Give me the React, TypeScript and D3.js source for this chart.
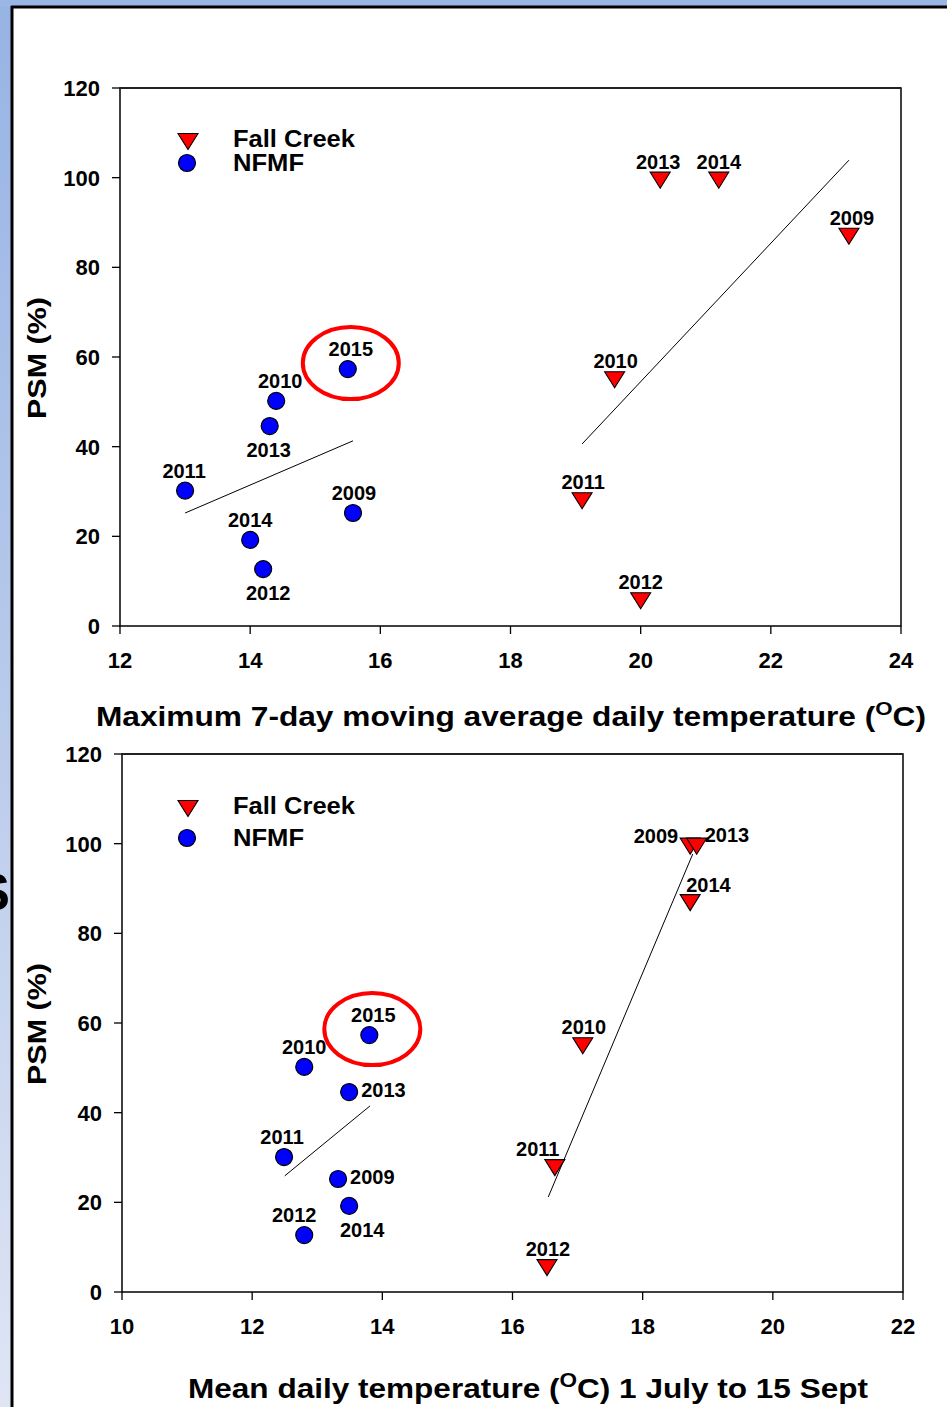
import React from "react";
import * as d3 from "d3";

// Shared tick labels
const psmTicks = [0, 20, 40, 60, 80, 100, 120];
const maxTempTicks = [12, 14, 16, 18, 20, 22, 24];
const meanTempTicks = [10, 12, 14, 16, 18, 20, 22];

// Maximum 7-day moving average daily temperature vs PSM
const topFallCreekYears = ["2009", "2010", "2011", "2012", "2013", "2014"];
const topFallCreekTemp = [23.2, 19.6, 19.1, 20.0, 20.3, 21.2];
const topFallCreekPSM = [87.5, 55.5, 28.5, 6.2, 100, 100];
const topNfmfYears = ["2009", "2010", "2011", "2012", "2013", "2014", "2015"];
const topNfmfTemp = [15.58, 14.4, 13.0, 14.2, 14.3, 14.0, 15.5];
const topNfmfPSM = [25.2, 50.2, 30.2, 12.7, 44.6, 19.2, 57.3];
const topFallTrendTemp = [19.1, 23.2];
const topFallTrendPSM = [40.6, 103.9];
const topNfmfTrendTemp = [13.0, 15.58];
const topNfmfTrendPSM = [25.2, 41.3];

// Mean daily temperature 1 July - 15 Sept vs PSM
const bottomFallCreekYears = ["2009", "2010", "2011", "2012", "2013", "2014"];
const bottomFallCreekTemp = [18.73, 17.08, 16.65, 16.53, 18.83, 18.73];
const bottomFallCreekPSM = [100, 55.5, 28.3, 6.0, 100, 87.4];
const bottomNfmfYears = ["2009", "2010", "2011", "2012", "2013", "2014", "2015"];
const bottomNfmfTemp = [13.32, 12.8, 12.49, 12.8, 13.49, 13.49, 13.8];
const bottomNfmfPSM = [25.2, 50.2, 30.1, 12.7, 44.6, 19.2, 57.3];
const bottomFallTrendTemp = [16.55, 18.77];
const bottomFallTrendPSM = [21.2, 97.7];
const bottomNfmfTrendTemp = [12.5, 13.81];
const bottomNfmfTrendPSM = [25.9, 41.5];

const highlightYear = "2015";

type Side = "above" | "below" | "right" | "left" | "aboveRight";
type Placement = Record<string, { side: Side; dx?: number }>;

const topNfmfLabels: Placement = {
  "2009": { side: "above", dx: 1 },
  "2010": { side: "above", dx: 4 },
  "2011": { side: "above", dx: -1 },
  "2012": { side: "below", dx: 5 },
  "2013": { side: "below", dx: -1 },
  "2014": { side: "above" },
  "2015": { side: "above", dx: 3 },
};
const topFallLabels: Placement = {
  "2009": { side: "above", dx: 3 },
  "2010": { side: "above", dx: 1 },
  "2011": { side: "above", dx: 1 },
  "2012": { side: "above" },
  "2013": { side: "above", dx: -2 },
  "2014": { side: "above" },
};
const bottomNfmfLabels: Placement = {
  "2009": { side: "right" },
  "2010": { side: "above" },
  "2011": { side: "above", dx: -2 },
  "2012": { side: "above", dx: -10 },
  "2013": { side: "right" },
  "2014": { side: "below", dx: 13 },
  "2015": { side: "above", dx: 4 },
};
const bottomFallLabels: Placement = {
  "2009": { side: "left" },
  "2010": { side: "above", dx: 1 },
  "2011": { side: "above", dx: -17 },
  "2012": { side: "above", dx: 1 },
  "2013": { side: "right" },
  "2014": { side: "aboveRight" },
};

const FONT = "'Liberation Sans', Arial, Helvetica, sans-serif";

function trianglePath(cx: number, cy: number) {
  const p = d3.path();
  p.moveTo(cx - 10, cy - 5.5);
  p.lineTo(cx + 10, cy - 5.5);
  p.lineTo(cx, cy + 10.5);
  p.closePath();
  return p.toString();
}

type PanelProps = {
  top: number;
  left: number;
  right: number;
  xDomain: [number, number];
  xTicks: number[];
  fallYears: string[];
  fallTemp: number[];
  fallPSM: number[];
  nfmfYears: string[];
  nfmfTemp: number[];
  nfmfPSM: number[];
  fallTrend: [number[], number[]];
  nfmfTrend: [number[], number[]];
  fallLabels: Placement;
  nfmfLabels: Placement;
  legendRows: [number, number];
};

function Panel(p: PanelProps) {
  const height = 538;
  const x = d3.scaleLinear().domain(p.xDomain).range([p.left, p.right]);
  const y = d3.scaleLinear().domain([0, 120]).range([p.top + height, p.top]);
  const bottom = p.top + height;
  const line = d3
    .line<[number, number]>()
    .x((d) => x(d[0]))
    .y((d) => y(d[1]));

  const circleLabel = (cx: number, cy: number, year: string) => {
    const pl = p.nfmfLabels[year] || { side: "above" };
    const dx = pl.dx || 0;
    if (pl.side === "below") return { x: cx + dx, y: cy + 31, anchor: "middle" };
    if (pl.side === "right") return { x: cx + 12 + dx, y: cy + 5, anchor: "start" };
    return { x: cx + dx, y: cy - 13, anchor: "middle" };
  };
  const triLabel = (cx: number, cy: number, year: string) => {
    const pl = p.fallLabels[year] || { side: "above" };
    const dx = pl.dx || 0;
    if (pl.side === "left") return { x: cx - 12 + dx, y: cy - 1, anchor: "end" };
    if (pl.side === "right") return { x: cx + 8 + dx, y: cy - 2, anchor: "start" };
    if (pl.side === "aboveRight") return { x: cx - 4 + dx, y: cy - 8, anchor: "start" };
    return { x: cx + dx, y: cy - 9, anchor: "middle" };
  };

  return (
    <g>
      {/* frame */}
      <rect
        x={p.left}
        y={p.top}
        width={p.right - p.left}
        height={height}
        fill="none"
        stroke="#000"
        strokeWidth={1.5}
      />
      <line x1={p.left} x2={p.right} y1={p.top} y2={p.top} stroke="#222" strokeWidth={2} />
      {/* y axis */}
      {psmTicks.map((t) => (
        <g key={"y" + t}>
          <line x1={p.left - 8} x2={p.left} y1={y(t)} y2={y(t)} stroke="#000" strokeWidth={1.3} />
          <text
            x={p.left - 20}
            y={y(t) + 8}
            textAnchor="end"
            fontSize={22}
            fontWeight="bold"
            fontFamily={FONT}
          >
            {t}
          </text>
        </g>
      ))}
      {/* x axis */}
      {p.xTicks.map((t) => (
        <g key={"x" + t}>
          <line x1={x(t)} x2={x(t)} y1={bottom} y2={bottom + 8} stroke="#000" strokeWidth={1.3} />
          <text
            x={x(t)}
            y={bottom + 42}
            textAnchor="middle"
            fontSize={22}
            fontWeight="bold"
            fontFamily={FONT}
          >
            {t}
          </text>
        </g>
      ))}
      {/* y title */}
      <text
        transform={`translate(46,${p.top + 270}) rotate(-90)`}
        textAnchor="middle"
        fontSize={25}
        fontWeight="bold"
        fontFamily={FONT}
        textLength={122}
        lengthAdjust="spacingAndGlyphs"
      >
        PSM (%)
      </text>
      {/* trend lines */}
      <path
        d={line(d3.zip(p.nfmfTrend[0], p.nfmfTrend[1]) as [number, number][]) || ""}
        stroke="#000"
        strokeWidth={1}
        fill="none"
      />
      <path
        d={line(d3.zip(p.fallTrend[0], p.fallTrend[1]) as [number, number][]) || ""}
        stroke="#000"
        strokeWidth={1}
        fill="none"
      />
      {/* NFMF points */}
      {p.nfmfYears.map((yr, i) => {
        const cx = x(p.nfmfTemp[i]);
        const cy = y(p.nfmfPSM[i]);
        const lb = circleLabel(cx, cy, yr);
        return (
          <g key={"n" + yr}>
            <circle cx={cx} cy={cy} r={8.5} fill="#0000ff" stroke="#000" strokeWidth={1.2} />
            <text
              x={lb.x}
              y={lb.y}
              textAnchor={lb.anchor as any}
              fontSize={20}
              fontWeight="bold"
              fontFamily={FONT}
            >
              {yr}
            </text>
            {yr === highlightYear && (
              <ellipse
                cx={cx + 3}
                cy={cy - 6}
                rx={48}
                ry={36}
                fill="none"
                stroke="#ff0000"
                strokeWidth={4}
              />
            )}
          </g>
        );
      })}
      {/* Fall Creek points */}
      {p.fallYears.map((yr, i) => {
        const cx = x(p.fallTemp[i]);
        const cy = y(p.fallPSM[i]);
        const lb = triLabel(cx, cy, yr);
        return (
          <g key={"f" + yr}>
            <path d={trianglePath(cx, cy)} fill="#ff0000" stroke="#000" strokeWidth={1.1} />
            <text
              x={lb.x}
              y={lb.y}
              textAnchor={lb.anchor as any}
              fontSize={20}
              fontWeight="bold"
              fontFamily={FONT}
            >
              {yr}
            </text>
          </g>
        );
      })}
      {/* legend */}
      <path d={trianglePath(188, p.top + p.legendRows[0])} fill="#ff0000" stroke="#000" strokeWidth={1.1} />
      <circle cx={187} cy={p.top + p.legendRows[1]} r={8.5} fill="#0000ff" stroke="#000" strokeWidth={1.2} />
      <text
        x={233}
        y={p.top + p.legendRows[0] + 8}
        fontSize={23}
        fontWeight="bold"
        fontFamily={FONT}
        textLength={122}
        lengthAdjust="spacingAndGlyphs"
      >
        Fall Creek
      </text>
      <text
        x={233}
        y={p.top + p.legendRows[1] + 8}
        fontSize={23}
        fontWeight="bold"
        fontFamily={FONT}
        textLength={71}
        lengthAdjust="spacingAndGlyphs"
      >
        NFMF
      </text>
    </g>
  );
}

export default function App() {
  return (
    <svg
      width={947}
      height={1407}
      style={{ position: "absolute", left: 0, top: 0, display: "block" }}
    >
      <defs>
        <linearGradient id="bgGrad" x1="0" y1="0" x2="0" y2="1">
          <stop offset="0%" stopColor="#97b3e4" />
          <stop offset="55%" stopColor="#bccdec" />
          <stop offset="100%" stopColor="#dfe5f4" />
        </linearGradient>
      </defs>
      <rect x={0} y={0} width={947} height={1407} fill="url(#bgGrad)" />
      <rect x={0} y={0} width={947} height={7} fill="#9ab6e5" />
      {/* edge of a letter from the neighbouring slide content */}
      <text x={10} y={910} textAnchor="end" fontSize={52} fontWeight="bold" fontFamily={FONT}>
        S
      </text>
      <rect x={12} y={7} width={935} height={1400} fill="#ffffff" />
      <line x1={12} x2={12} y1={6} y2={1407} stroke="#000" strokeWidth={3} />
      <line x1={11} x2={947} y1={7} y2={7} stroke="#000" strokeWidth={3} />

      <Panel
        top={88}
        left={120}
        right={901}
        xDomain={[12, 24]}
        xTicks={maxTempTicks}
        fallYears={topFallCreekYears}
        fallTemp={topFallCreekTemp}
        fallPSM={topFallCreekPSM}
        nfmfYears={topNfmfYears}
        nfmfTemp={topNfmfTemp}
        nfmfPSM={topNfmfPSM}
        fallTrend={[topFallTrendTemp, topFallTrendPSM]}
        nfmfTrend={[topNfmfTrendTemp, topNfmfTrendPSM]}
        fallLabels={topFallLabels}
        nfmfLabels={topNfmfLabels}
        legendRows={[51, 75]}
      />
      <Panel
        top={754}
        left={122}
        right={903}
        xDomain={[10, 22]}
        xTicks={meanTempTicks}
        fallYears={bottomFallCreekYears}
        fallTemp={bottomFallCreekTemp}
        fallPSM={bottomFallCreekPSM}
        nfmfYears={bottomNfmfYears}
        nfmfTemp={bottomNfmfTemp}
        nfmfPSM={bottomNfmfPSM}
        fallTrend={[bottomFallTrendTemp, bottomFallTrendPSM]}
        nfmfTrend={[bottomNfmfTrendTemp, bottomNfmfTrendPSM]}
        fallLabels={bottomFallLabels}
        nfmfLabels={bottomNfmfLabels}
        legendRows={[52, 84]}
      />

      {/* x axis titles */}
      <text
        x={96}
        y={726}
        fontSize={27}
        fontWeight="bold"
        fontFamily={FONT}
        textLength={830}
        lengthAdjust="spacingAndGlyphs"
      >
        Maximum 7-day moving average daily temperature (
        <tspan fontSize={19} dy={-11}>O</tspan>
        <tspan dy={11}>C)</tspan>
      </text>
      <text
        x={188}
        y={1398}
        fontSize={28}
        fontWeight="bold"
        fontFamily={FONT}
        textLength={680}
        lengthAdjust="spacingAndGlyphs"
      >
        Mean daily temperature (
        <tspan fontSize={20} dy={-11}>O</tspan>
        <tspan dy={11}>C) 1 July to 15 Sept</tspan>
      </text>
    </svg>
  );
}
